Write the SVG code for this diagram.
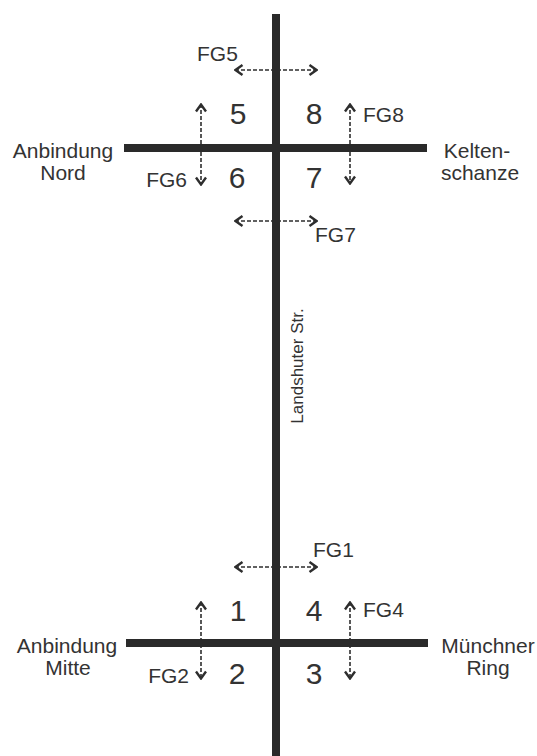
<svg xmlns="http://www.w3.org/2000/svg" width="537" height="756" viewBox="0 0 537 756">
  <style>
    .road { stroke: #2a2a2a; stroke-width: 8; fill: none; }
    .flow { stroke: #2e2e2e; stroke-width: 1.6; stroke-dasharray: 4 2; fill: none; marker-start: url(#chev); marker-end: url(#chev); }
    .lbl { font-family: "Liberation Sans", Arial, sans-serif; font-size: 21px; fill: #333333; }
    .num { font-family: "Liberation Sans", Arial, sans-serif; font-size: 30px; fill: #333333; text-anchor: middle; }
    .mid { text-anchor: middle; }
    .end { text-anchor: end; }
  </style>
  <defs>
    <marker id="chev" viewBox="0 0 10 12" refX="9" refY="6" markerWidth="10" markerHeight="12" markerUnits="userSpaceOnUse" orient="auto-start-reverse">
      <path d="M1.5,1 L8.5,6 L1.5,11" fill="none" stroke="#2e2e2e" stroke-width="2.4" stroke-dasharray="none" stroke-linecap="butt"/>
    </marker>
  </defs>

  <g id="connectors">
    <line id="fg5-arrow" class="flow" x1="235" y1="70" x2="317" y2="70"/>
    <line id="fg7-arrow" class="flow" x1="235" y1="221" x2="317" y2="221"/>
    <line id="fg6-arrow" class="flow" x1="201" y1="104" x2="201" y2="185"/>
    <line id="fg8-arrow" class="flow" x1="350" y1="104" x2="350" y2="184"/>
    <line id="fg1-arrow" class="flow" x1="235" y1="567" x2="317" y2="567"/>
    <line id="fg2-arrow" class="flow" x1="201" y1="602" x2="201" y2="679"/>
    <line id="fg4-arrow" class="flow" x1="350" y1="602" x2="350" y2="679"/>
  </g>

  <g id="roads">
    <line id="landshuter-str" class="road" x1="276" y1="14" x2="276" y2="756"/>
    <line id="road-nord" class="road" x1="124" y1="148" x2="427" y2="148"/>
    <line id="road-mitte" class="road" x1="126" y1="643" x2="428" y2="643"/>
  </g>

  <g id="label-landshuter">
    <text class="lbl mid" font-size="17" style="font-size:17px" transform="translate(303,366) rotate(-90)">Landshuter Str.</text>
  </g>

  <g id="node-anbindung-nord">
    <text class="lbl mid" x="63" y="158">Anbindung</text>
    <text class="lbl mid" x="63" y="180">Nord</text>
  </g>
  <g id="node-keltenschanze">
    <text class="lbl mid" x="477" y="158">Kelten-</text>
    <text class="lbl mid" x="480" y="180">schanze</text>
  </g>
  <g id="node-anbindung-mitte">
    <text class="lbl mid" x="67" y="653">Anbindung</text>
    <text class="lbl mid" x="68" y="675">Mitte</text>
  </g>
  <g id="node-muenchner-ring">
    <text class="lbl mid" x="488" y="653">Münchner</text>
    <text class="lbl mid" x="488" y="675">Ring</text>
  </g>

  <g id="quadrants-nord">
    <text class="num" x="238" y="124">5</text>
    <text class="num" x="314" y="124">8</text>
    <text class="num" x="237" y="188">6</text>
    <text class="num" x="314" y="188">7</text>
  </g>
  <g id="quadrants-mitte">
    <text class="num" x="238" y="621">1</text>
    <text class="num" x="314" y="621">4</text>
    <text class="num" x="237" y="684">2</text>
    <text class="num" x="314" y="684">3</text>
  </g>

  <g id="flow-labels">
    <text id="fg5" class="lbl" x="197" y="61">FG5</text>
    <text id="fg8" class="lbl" x="363" y="122">FG8</text>
    <text id="fg6" class="lbl end" x="187" y="187">FG6</text>
    <text id="fg7" class="lbl" x="315" y="242">FG7</text>
    <text id="fg1" class="lbl" x="313" y="557">FG1</text>
    <text id="fg4" class="lbl" x="363" y="617">FG4</text>
    <text id="fg2" class="lbl end" x="189" y="683">FG2</text>
  </g>
</svg>
